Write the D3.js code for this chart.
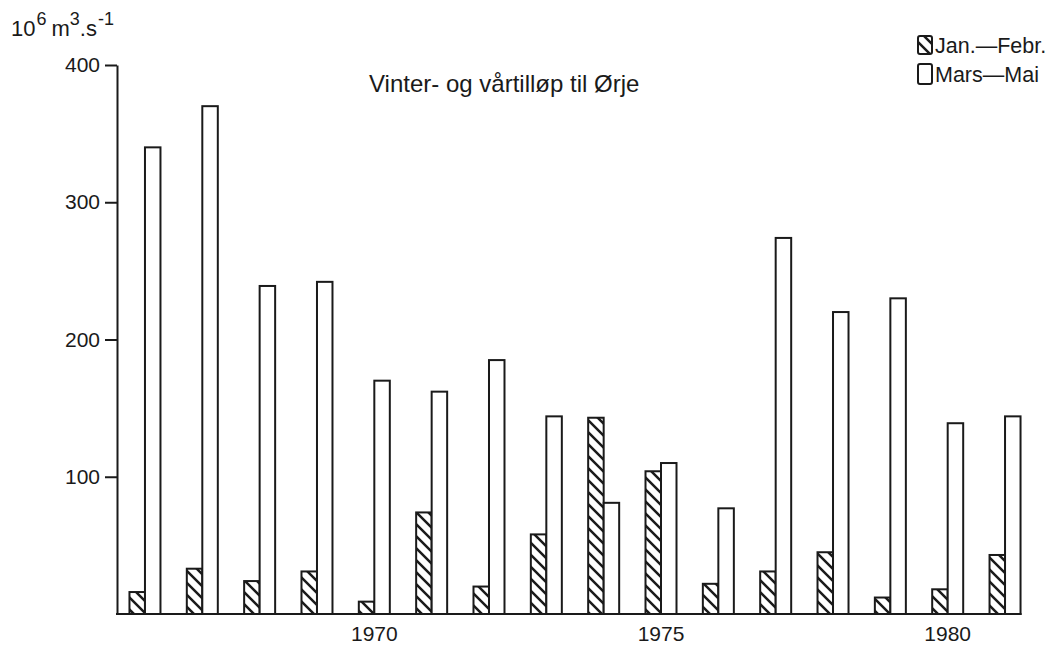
<!DOCTYPE html>
<html>
<head>
<meta charset="utf-8">
<script src="https://cdn.jsdelivr.net/npm/d3@7"></script>
<style>
  html, body { margin: 0; padding: 0; background: #fff; }
  svg { display: block; font-family: "Liberation Sans", Arial, Helvetica, sans-serif; }
</style>
</head>
<body>
<svg id="chart" width="1063" height="652"></svg>
<script>
// ---- data ----
const years = [1966, 1967, 1968, 1969, 1970, 1971, 1972, 1973, 1974, 1975, 1976, 1977, 1978, 1979, 1980, 1981];
const janFebr = [16, 33, 24, 31, 9, 74, 20, 58, 143, 104, 22, 31, 45, 12, 18, 43];
const marsMai = [340, 370, 239, 242, 170, 162, 185, 144, 81, 110, 77, 274, 220, 230, 139, 144];
const yTicks = [100, 200, 300, 400];
const xTickYears = [1970, 1975, 1980];
const title = "Vinter- og vårtilløp til Ørje";
const seriesNames = ["Jan.\u2014Febr.", "Mars\u2014Mai"];

const ink = "#1a1a1a";
const svg = d3.select("#chart");

// hatch pattern
const defs = svg.append("defs");
const pat = defs.append("pattern")
  .attr("id", "hatch").attr("patternUnits", "userSpaceOnUse")
  .attr("width", 12).attr("height", 12);
pat.append("rect").attr("width", 12).attr("height", 12).attr("fill", "#fff");
pat.append("path").attr("d", "M-3,-3 L15,15 M-3,9 L3,15 M9,-3 L15,3")
  .attr("stroke", ink).attr("stroke-width", 2.5);

// scales
const x = d3.scaleBand().domain(years).range([116.3, 1033.7]).padding(0);
const y = d3.scaleLinear().domain([0, 400]).range([614, 65]);
const barW = 15.5;
const cx = d => x(d) + x.bandwidth() / 2;

// bars
const g = svg.append("g");
g.selectAll("rect.jan").data(years).join("rect")
  .attr("class", "jan")
  .attr("x", d => cx(d) - barW)
  .attr("y", (d, i) => y(janFebr[i]))
  .attr("width", barW)
  .attr("height", (d, i) => y(0) - y(janFebr[i]))
  .attr("fill", "url(#hatch)").attr("stroke", ink).attr("stroke-width", 2);

g.selectAll("rect.mars").data(years).join("rect")
  .attr("class", "mars")
  .attr("x", d => cx(d))
  .attr("y", (d, i) => y(marsMai[i]))
  .attr("width", barW)
  .attr("height", (d, i) => y(0) - y(marsMai[i]))
  .attr("fill", "#fff").attr("stroke", ink).attr("stroke-width", 2);

// y axis
const yAxis = svg.append("g").attr("transform", "translate(117,0)")
  .call(d3.axisLeft(y).tickValues(yTicks).tickSize(12).tickSizeOuter(0).tickPadding(5));
yAxis.select(".domain").attr("stroke", ink).attr("stroke-width", 2);
yAxis.selectAll(".tick line").attr("stroke", ink).attr("stroke-width", 2);
yAxis.selectAll(".tick text").attr("font-size", 21).attr("fill", ink)
  .attr("font-family", "'Liberation Sans', Arial, sans-serif");

// x axis
const xAxis = svg.append("g").attr("transform", `translate(0,${y(0)})`)
  .call(d3.axisBottom(x).tickValues(xTickYears).tickSize(0).tickPadding(12));
xAxis.select(".domain").remove();
xAxis.selectAll(".tick text").attr("font-size", 21).attr("fill", ink)
  .attr("font-family", "'Liberation Sans', Arial, sans-serif");
svg.append("line")
  .attr("x1", 116).attr("x2", cx(years[years.length - 1]) + barW + 1)
  .attr("y1", y(0)).attr("y2", y(0))
  .attr("stroke", ink).attr("stroke-width", 2);

// title
svg.append("text").attr("x", 369).attr("y", 92)
  .attr("font-size", 24).attr("fill", ink).text(title);

// unit label
const u = svg.append("text").attr("x", 11).attr("y", 36).attr("font-size", 22).attr("fill", ink);
u.append("tspan").text("10");
u.append("tspan").attr("dy", -11).attr("dx", 1).attr("font-size", 18).text("6");
u.append("tspan").attr("dy", 11).attr("dx", 5).text("m");
u.append("tspan").attr("dy", -11).attr("font-size", 18).text("3");
u.append("tspan").attr("dy", 11).text(".s");
u.append("tspan").attr("dy", -11).attr("dx", 1).attr("font-size", 18).text("-1");

// legend
const lg = svg.append("g");
lg.append("rect").attr("x", 918).attr("y", 36).attr("width", 14).attr("height", 18).attr("rx", 2)
  .attr("fill", "url(#hatch)").attr("stroke", ink).attr("stroke-width", 2);
lg.append("rect").attr("x", 918).attr("y", 64).attr("width", 14).attr("height", 20).attr("rx", 2)
  .attr("fill", "#fff").attr("stroke", ink).attr("stroke-width", 2);
lg.append("text").attr("x", 935).attr("y", 53).attr("font-size", 21.5).attr("fill", ink).text(seriesNames[0]);
lg.append("text").attr("x", 935).attr("y", 82).attr("font-size", 21.5).attr("fill", ink).text(seriesNames[1]);
</script>
</body>
</html>
